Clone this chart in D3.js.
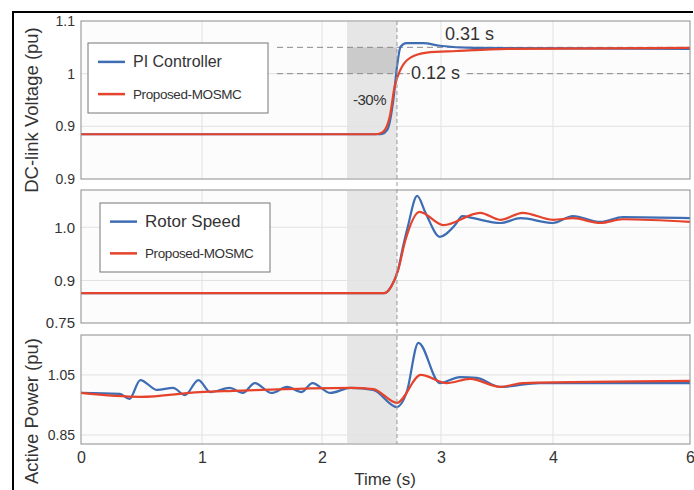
<!DOCTYPE html>
<html>
<head>
<meta charset="utf-8">
<script src="https://cdn.jsdelivr.net/npm/d3@7/dist/d3.min.js"></script>
<style>
  body { margin: 0; background: #fff; }
  text { font-family: "Liberation Sans", Arial, sans-serif; fill: #333; }
</style>
</head>
<body>
<div id="canvas"></div>
<script>
// x axis (seconds) - the original axis is not evenly spaced, so a piecewise scale is used
const xTicks = [0, 1, 2, 3, 4, 6];
const xTickPx = [81, 202, 322, 441, 553, 690];

const shadeStart = 2.21;
const eventTime = 2.63;

// panel 1 : DC-link voltage
const v1Ticks = [0.8, 0.9, 1.0, 1.1];
const v1Labels = ["0.9", "0.9", "1", "1.1"];
const v1Ref = [1.0, 1.05];
const v1PI = [
  [0, 0.885], [2.49, 0.885], [2.55, 0.894], [2.60, 0.951], [2.63, 1.013],
  [2.66, 1.051], [2.71, 1.058], [2.85, 1.058], [2.99, 1.053], [3.29, 1.049], [6, 1.047]
];
const v1MOSMC = [
  [0, 0.885], [2.45, 0.885], [2.51, 0.889], [2.57, 0.919], [2.61, 0.975],
  [2.66, 1.008], [2.74, 1.030], [2.88, 1.040], [3.14, 1.043], [3.59, 1.047], [6, 1.049]
];

// panel 2 : rotor speed
const v2Ticks = [0.82, 0.9, 1.0];
const v2Labels = ["0.75", "0.9", "1.0"];
const v2PI = [
  [0, 0.876], [2.52, 0.876], [2.58, 0.888], [2.64, 0.92], [2.68, 0.963], [2.72, 1.0],
  [2.80, 1.059], [2.87, 1.027], [2.99, 0.982], [3.125, 1.004], [3.19, 1.021], [3.29, 1.017],
  [3.53, 1.008], [3.71, 1.017], [4.0, 1.008], [4.29, 1.021], [4.69, 1.01], [5.02, 1.019], [6, 1.017]
];
const v2MOSMC = [
  [0, 0.876], [2.52, 0.876], [2.58, 0.888], [2.64, 0.92], [2.70, 0.975],
  [2.82, 1.029], [3.02, 1.004], [3.35, 1.027], [3.53, 1.014], [3.73, 1.027],
  [4.0, 1.014], [4.29, 1.017], [4.69, 1.008], [5.02, 1.015], [6, 1.01]
];

// panel 3 : active power
const v3Ticks = [0.85, 1.05];
const v3Labels = ["0.85", "1.05"];
const v3PI = [
  [0, 0.99], [0.32, 0.987], [0.40, 0.97], [0.49, 1.033], [0.63, 1.0], [0.76, 1.007],
  [0.86, 0.983], [0.97, 1.033], [1.07, 0.993], [1.23, 1.007], [1.34, 0.99], [1.44, 1.023],
  [1.58, 0.99], [1.71, 1.01], [1.83, 0.993], [1.92, 1.023], [2.07, 0.99], [2.24, 1.007],
  [2.43, 1.0], [2.63, 0.943], [2.71, 0.99], [2.81, 1.157], [2.99, 1.023], [3.17, 1.043],
  [3.32, 1.04], [3.53, 1.01], [3.88, 1.023], [6, 1.023]
];
const v3MOSMC = [
  [0, 0.99], [0.49, 0.977], [0.98, 0.993], [1.26, 0.997], [2.24, 1.007], [2.43, 1.003],
  [2.63, 0.957], [2.83, 1.05], [3.05, 1.023], [3.26, 1.037], [3.53, 1.01], [3.73, 1.023], [6, 1.03]
];

const blue = "#3e6db3";
const red = "#e5432c";

const w = 694, h = 490;
const svg = d3.select("#canvas").append("svg")
  .attr("width", w).attr("height", h)
  .attr("viewBox", [0, 0, w, h]);

const x = d3.scaleLinear().domain(xTicks).range(xTickPx);
const left = x(0), right = x(6);

const panels = [
  { top: 21, bottom: 179, domain: [0.8, 1.1], ticks: v1Ticks, labels: v1Labels, pi: v1PI, mo: v1MOSMC, fs: 14 },
  { top: 190, bottom: 323, domain: [0.82, 1.07], ticks: v2Ticks, labels: v2Labels, pi: v2PI, mo: v2MOSMC, fs: 15 },
  { top: 335, bottom: 444, domain: [0.82, 1.183], ticks: v3Ticks, labels: v3Labels, pi: v3PI, mo: v3MOSMC, fs: 14 }
];

panels.forEach((p, i) => {
  p.y = d3.scaleLinear().domain(p.domain).range([p.bottom, p.top]);
  const g = svg.append("g");

  g.append("rect")
    .attr("x", left).attr("y", p.top)
    .attr("width", right - left).attr("height", p.bottom - p.top)
    .attr("fill", "#fcfcfc");

  // shaded fault window
  g.append("rect")
    .attr("x", x(shadeStart)).attr("y", p.top + 1)
    .attr("width", x(eventTime) - x(shadeStart)).attr("height", p.bottom - p.top - 2)
    .attr("fill", "#e6e6e6");

  // grid
  g.selectAll(".vg").data(xTicks.slice(1, -1)).enter().append("line")
    .attr("x1", d => x(d)).attr("x2", d => x(d))
    .attr("y1", p.top).attr("y2", p.bottom)
    .attr("stroke", "#e2e2e2").attr("stroke-width", 1);
  g.selectAll(".hg").data(p.ticks.filter(t => t > p.domain[0] && t < p.domain[1])).enter().append("line")
    .attr("x1", left).attr("x2", right)
    .attr("y1", d => p.y(d)).attr("y2", d => p.y(d))
    .attr("stroke", "#e2e2e2").attr("stroke-width", 1);

  p.g = g;

  // y tick labels
  const yAxis = d3.axisLeft(p.y)
    .tickValues(p.ticks)
    .tickSize(0)
    .tickPadding(6)
    .tickFormat((d, k) => p.labels[k]);
  const ga = svg.append("g").attr("transform", `translate(${left},0)`).call(yAxis);
  ga.select(".domain").remove();
  ga.selectAll("text").attr("font-size", p.fs).attr("fill", "#444")
    .attr("font-family", "Liberation Sans, Arial, sans-serif");
});

// extra marks in panel 1
const p1 = panels[0];
p1.g.append("rect")
  .attr("x", x(shadeStart)).attr("y", p1.y(v1Ref[1]))
  .attr("width", x(eventTime) - x(shadeStart))
  .attr("height", p1.y(v1Ref[0]) - p1.y(v1Ref[1]))
  .attr("fill", "#cbcbcb");
p1.g.selectAll(".ref").data(v1Ref).enter().append("line")
  .attr("x1", x(1.625)).attr("x2", right)
  .attr("y1", d => p1.y(d)).attr("y2", d => p1.y(d))
  .attr("stroke", "#8a8a8a").attr("stroke-width", 1)
  .attr("stroke-dasharray", "6,4");

// vertical event line across all panels
svg.append("line")
  .attr("x1", x(eventTime)).attr("x2", x(eventTime))
  .attr("y1", p1.top).attr("y2", panels[2].bottom)
  .attr("stroke", "#999").attr("stroke-width", 1)
  .attr("stroke-dasharray", "4,3");

// curves
panels.forEach(p => {
  const line = d3.line()
    .x(d => x(d[0])).y(d => p.y(d[1]))
    .curve(d3.curveMonotoneX);
  p.g.append("path").datum(p.pi)
    .attr("d", line).attr("fill", "none")
    .attr("stroke", blue).attr("stroke-width", 2.2);
  p.g.append("path").datum(p.mo)
    .attr("d", line).attr("fill", "none")
    .attr("stroke", red).attr("stroke-width", 2.2);
  p.g.append("rect")
    .attr("x", left).attr("y", p.top)
    .attr("width", right - left).attr("height", p.bottom - p.top)
    .attr("fill", "none").attr("stroke", "#8c8c8c").attr("stroke-width", 1);
});

// annotations in panel 1
const bg012 = svg.append("rect").attr("fill", "#fcfcfc");
const lbl012 = svg.append("text")
  .attr("x", 411).attr("y", 79)
  .attr("font-size", 18).attr("fill", "#333")
  .text("0.12 s");
const bb = lbl012.node().getBBox();
bg012.attr("x", bb.x - 1).attr("y", bb.y + 3)
  .attr("width", bb.width + 6).attr("height", bb.height - 6);
svg.append("text")
  .attr("x", 445).attr("y", 40)
  .attr("font-size", 18).attr("fill", "#333")
  .text("0.31 s");
svg.append("text")
  .attr("x", 353).attr("y", 105)
  .attr("font-size", 15).attr("fill", "#444")
  .attr("letter-spacing", -0.5)
  .text("-30%");

// legends
function legend(x0, y0, wd, ht, first, firstSize) {
  const g = svg.append("g").attr("transform", `translate(${x0},${y0})`);
  g.append("rect").attr("width", wd).attr("height", ht)
    .attr("fill", "#fff").attr("stroke", "#777").attr("stroke-width", 1);
  const rows = [[first, blue, firstSize, ht * 0.27], ["Proposed-MOSMC", red, 13.5, ht * 0.73]];
  rows.forEach(r => {
    g.append("line").attr("x1", 10).attr("x2", 37)
      .attr("y1", r[3]).attr("y2", r[3])
      .attr("stroke", r[1]).attr("stroke-width", 2.5);
    g.append("text").attr("x", 45).attr("y", r[3] + 5)
      .attr("font-size", r[2]).attr("fill", "#333")
      .attr("letter-spacing", r[2] < 14 ? -0.4 : 0)
      .text(r[0]);
  });
}
legend(88, 43, 180, 70, "PI Controller", 16);
legend(100, 203, 170, 69, "Rotor Speed", 17);

// x tick labels
const xAxis = d3.axisBottom(x).tickValues(xTicks).tickSize(0).tickPadding(8).tickFormat(d3.format("d"));
const gx = svg.append("g").attr("transform", `translate(0,${panels[2].bottom})`).call(xAxis);
gx.select(".domain").remove();
gx.selectAll("text").attr("font-size", 16).attr("fill", "#444")
  .attr("font-family", "Liberation Sans, Arial, sans-serif");

svg.append("text")
  .attr("x", 385).attr("y", 485)
  .attr("text-anchor", "middle").attr("font-size", 17)
  .text("Time (s)");

svg.append("text")
  .attr("transform", "translate(38,110) rotate(-90)")
  .attr("text-anchor", "middle").attr("font-size", 18.5)
  .text("DC-link Voltage (pu)");
svg.append("text")
  .attr("transform", "translate(38,411) rotate(-90)")
  .attr("text-anchor", "middle").attr("font-size", 18.5)
  .text("Active Power (pu)");

// outer frame
svg.append("path")
  .attr("d", `M13,${h} V12 H${w - 1}`)
  .attr("fill", "none").attr("stroke", "#000").attr("stroke-width", 2);
</script>
</body>
</html>
